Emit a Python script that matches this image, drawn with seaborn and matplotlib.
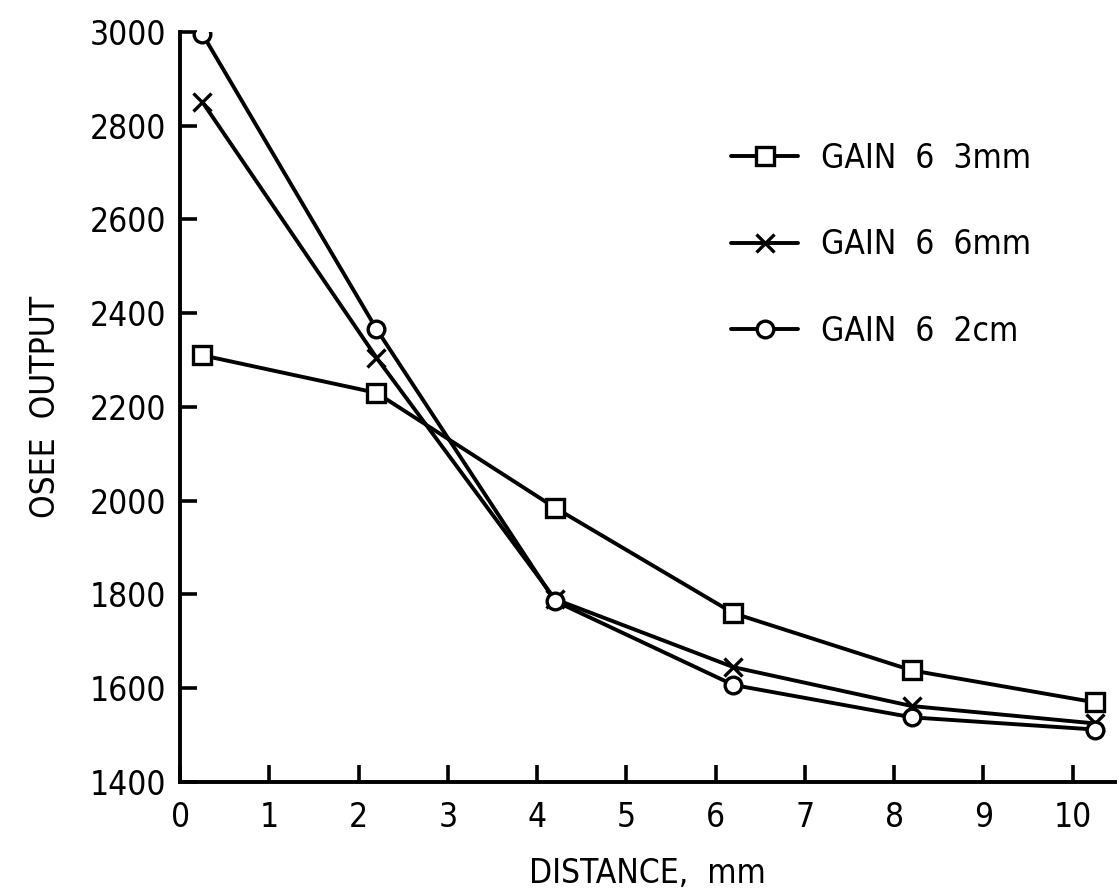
import pandas as pd
import matplotlib
matplotlib.use('Agg')
import matplotlib.pyplot as plt
import seaborn as sns

# distance (mm) and OSEE output
distance = [0.25, 2.2, 4.2, 6.2, 8.2, 10.25]
gain6_3mm = [2310, 2230, 1985, 1760, 1638, 1570]
gain6_6mm = [2850, 2305, 1790, 1645, 1562, 1525]
gain6_2cm = [2995, 2366, 1786, 1607, 1538, 1512]

labels = ['GAIN  6  3mm', 'GAIN  6  6mm', 'GAIN  6  2cm']
markers = ['s', 'x', 'o']

sns.set_theme(style='ticks')
plt.rcParams['font.family'] = ['DejaVu Sans']
plt.rcParams['font.stretch'] = 'condensed'
plt.rcParams['text.color'] = 'black'
plt.rcParams['axes.labelcolor'] = 'black'
plt.rcParams['xtick.color'] = 'black'
plt.rcParams['ytick.color'] = 'black'
plt.rcParams['axes.edgecolor'] = 'black'

fig = plt.figure(figsize=(11.19, 8.9), dpi=100)
ax = fig.add_axes([0.161, 0.1213, 0.835, 0.843])

for vals, lab, mk in zip([gain6_3mm, gain6_6mm, gain6_2cm], labels, markers):
    df = pd.DataFrame({'dist': distance, 'osee': vals})
    sns.lineplot(data=df, x='dist', y='osee', ax=ax, color='black', lw=2.8,
                 marker=mk, markersize=13 if mk != 'o' else 12,
                 markerfacecolor='white', markeredgecolor='black',
                 markeredgewidth=2.4, label=lab)

ax.set_xlim(0, 10.47)
ax.set_ylim(1400, 3000)
ax.set_xticks(range(0, 11))
ax.set_yticks(range(1400, 3001, 200))
ax.tick_params(direction='in', length=12, width=2.6, labelsize=24, pad=10)
ax.tick_params(axis='x', pad=14)
for side in ['top', 'right']:
    ax.spines[side].set_visible(False)
for side in ['left', 'bottom']:
    ax.spines[side].set_linewidth(2.8)

ax.set_xlabel('DISTANCE,  mm', fontsize=24, labelpad=16)
ax.set_ylabel('OSEE  OUTPUT', fontsize=24, labelpad=20)

leg = ax.legend(loc='upper left', bbox_to_anchor=(0.59, 0.853), frameon=False,
                fontsize=24, labelspacing=1.6, handlelength=2.0,
                handletextpad=0.7, borderpad=0, borderaxespad=0)

plt.savefig('out.png', dpi=100)
